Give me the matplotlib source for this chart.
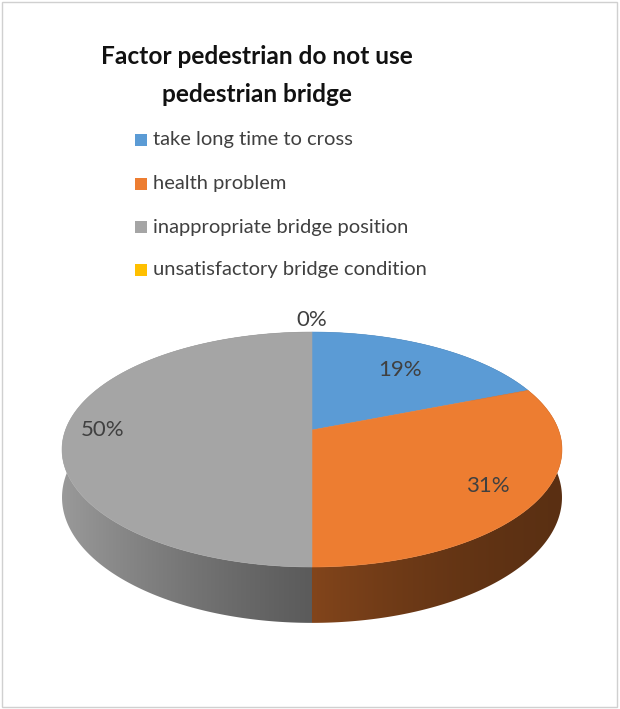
import numpy as np
import matplotlib.pyplot as plt
from matplotlib.patches import Rectangle, Polygon

# data
categories = ["take long time to cross", "health problem",
              "inappropriate bridge position", "unsatisfactory bridge condition"]
values = [19, 31, 50, 0]
colors = ["#5B9BD5", "#ED7D31", "#A5A5A5", "#FFC000"]
title_lines = ["Factor pedestrian do not use", "pedestrian bridge"]

plt.rcParams["font.family"] = ["Lato", "DejaVu Sans"]

# camera for the 3d pie: vertical picture plane, eye above the top face
# (pixel space, y grows downward)
CX, CY = 312, 430
FOC = 1484.0
DIST = 6.02
EYE_H = 2.79
THICK = 0.189


def proj(theta, r=1.0, z=0.0):
    t = np.radians(theta)
    X = r * np.cos(t)
    Y = r * np.sin(t)
    depth = DIST + Y
    px = CX + X * FOC / depth
    py = CY + (EYE_H - z) * FOC / depth - EYE_H * FOC / DIST
    return px, py


def shade(hex_color, xn):
    # side wall gets lighter on the left, darker on the right
    f = 0.55 - 0.275 * xn + 0.105 * xn ** 2
    rgb = np.array([int(hex_color[i:i + 2], 16) for i in (1, 3, 5)]) / 255.0
    return np.clip(np.outer(f, rgb), 0, 1)


fig = plt.figure(figsize=(6.2, 7.09), dpi=100)
ax = fig.add_axes([0, 0, 1, 1])
ax.set_xlim(0, 620)
ax.set_ylim(709, 0)
ax.axis("off")

total = float(sum(values))
cum = np.concatenate([[0], np.cumsum(values)]) / total
starts = 90 - 360 * cum[:-1]
ends = 90 - 360 * cum[1:]

# side wall: horizontal gradient clipped to each slice's outer wall
xs = np.linspace(0, 620, 621)
for v, c, a0, a1 in zip(values, colors, starts, ends):
    if v == 0:
        continue
    th = np.linspace(a0, a1, max(int(abs(a0 - a1)), 2) * 2)
    tx, ty = proj(th)
    bx, by = proj(th[::-1], z=-THICK)
    wall = Polygon(list(zip(tx, ty)) + list(zip(bx, by)), closed=True,
                   facecolor="none", edgecolor="none")
    ax.add_patch(wall)
    grad = shade(c, (xs - CX) / 250.0)[np.newaxis, :, :]
    im = ax.imshow(grad, extent=(0, 620, 700, 300), aspect="auto",
                   interpolation="bilinear", zorder=1)
    im.set_clip_path(wall)

# top face
for v, c, a0, a1 in zip(values, colors, starts, ends):
    if v == 0:
        continue
    th = np.linspace(a0, a1, max(int(abs(a0 - a1)), 2) * 2)
    px, py = proj(th)
    pts = [(CX, CY)] + list(zip(px, py))
    ax.add_patch(Polygon(pts, closed=True, facecolor=c, edgecolor=c,
                         linewidth=0.4, zorder=2))

# data labels
label_r = [0.7, 0.8, 0.85, 1.15]
for v, a0, a1, r in zip(values, starts, ends, label_r):
    lx, ly = proj((a0 + a1) / 2, r)
    ax.text(lx, ly, f"{v}%", ha="center", va="center", fontsize=16,
            color="#404040", zorder=3)

# title
for line, y in zip(title_lines, [57, 95]):
    ax.text(257, y, line, ha="center", va="center", fontsize=17.6,
            fontweight="bold", color="#111111")

# legend
leg_y = [140, 184, 227, 270]
for lab, c, y in zip(categories, colors, leg_y):
    ax.add_patch(Rectangle((135, y - 6), 12, 12, facecolor=c, edgecolor="none"))
    ax.text(153, y, lab, ha="left", va="center", fontsize=14.5, color="#404040")

# chart border
fig.patches.append(Rectangle((2 / 620, 2 / 709), 615 / 620, 705 / 709,
                             transform=fig.transFigure, fill=False,
                             edgecolor="#d0d0d0", linewidth=1))

fig.savefig("out.png", dpi=100)
